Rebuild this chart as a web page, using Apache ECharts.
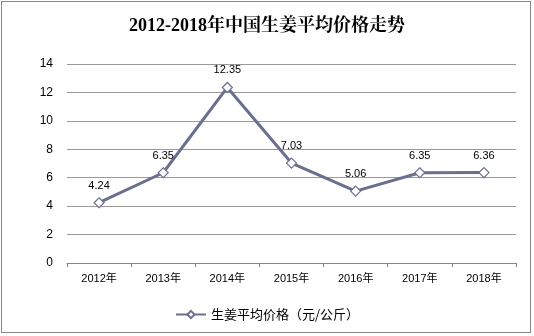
<!DOCTYPE html>
<html><head><meta charset="utf-8">
<script src="https://cdn.jsdelivr.net/npm/echarts@6/dist/echarts.min.js"></script>
<style>html,body{margin:0;padding:0;background:#fff}#c{width:534px;height:336px}
#frame{position:absolute;left:1px;top:1px;width:530px;height:332px;border:1px solid #888;box-sizing:border-box;pointer-events:none}</style>
</head><body><div id="c"></div><div id="frame"></div>
<script>
const categories = ['2012年','2013年','2014年','2015年','2016年','2017年','2018年'];
const values = [4.24, 6.35, 12.35, 7.03, 5.06, 6.35, 6.36];
const seriesName = '生姜平均价格（元/公斤）';
const titleText = '2012-2018年中国生姜平均价格走势';
const chart = echarts.init(document.getElementById('c'));
const color = '#69708F';
chart.setOption({
  animation: false,
  title: {text: titleText, left: 'center', top: 12,
    textStyle: {fontFamily: '"Liberation Serif","Noto Serif CJK SC","Noto Sans CJK SC",serif', fontWeight: 'bold', fontSize: 18, color: '#000'}},
  grid: {left: 67, right: 18, top: 64, bottom: 73},
  legend: {data: [seriesName], bottom: 10, left: 'center', itemWidth: 30, itemHeight: 9,
    textStyle: {fontFamily: '"Noto Sans CJK SC",sans-serif', fontSize: 13, color: '#000'}},
  xAxis: {type: 'category', data: categories, boundaryGap: true,
    axisLine: {lineStyle: {color: '#888'}},
    axisTick: {show: true, alignWithLabel: false, length: 4, lineStyle: {color: '#888'}},
    axisLabel: {color: '#000', fontSize: 11, margin: 10, fontFamily: '"Liberation Sans","Noto Sans CJK SC",sans-serif'}},
  yAxis: {type: 'value', min: 0, max: 14, interval: 2,
    axisLine: {show: false}, axisTick: {show: false},
    splitLine: {lineStyle: {color: '#999'}},
    axisLabel: {color: '#000', fontSize: 12, margin: 14, fontFamily: '"Liberation Sans",Arial,sans-serif'}},
  series: [{name: seriesName, type: 'line', data: values,
    symbol: 'diamond', symbolSize: 10,
    lineStyle: {color: color, width: 3},
    itemStyle: {color: '#fff', borderColor: color, borderWidth: 1.2},
    label: {show: true, position: 'top', distance: 6, color: '#000', fontSize: 11,
      fontFamily: '"Liberation Sans",Arial,sans-serif',
      formatter: p => p.value.toFixed(2)}}]
});
</script></body></html>
